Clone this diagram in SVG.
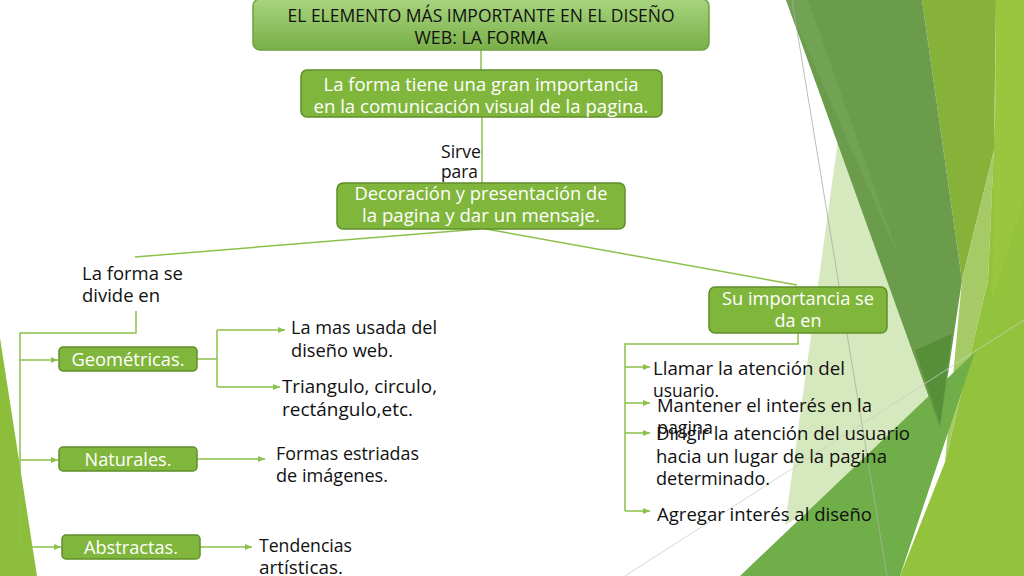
<svg xmlns="http://www.w3.org/2000/svg" width="1024" height="576" viewBox="0 0 1024 576">
<defs>
<style>
.box{fill:#80b63b;stroke:#5e8e2a;stroke-width:1.5}
.bt{font-family:"Open Sans","Liberation Sans",sans-serif;font-size:18px;fill:#ffffff;text-anchor:middle}
.tt{font-family:"Open Sans","Liberation Sans",sans-serif;font-size:18px;fill:#111111;text-anchor:middle}
.t{font-family:"Open Sans","Liberation Sans",sans-serif;font-size:18px;fill:#111111}
.c{stroke:#8cc04a;stroke-width:1.5;fill:none}
.a{marker-end:url(#arr)}
</style>
<linearGradient id="tg" x1="0" y1="0" x2="0" y2="1">
<stop offset="0" stop-color="#a8d47f"/>
<stop offset="1" stop-color="#79af47"/>
</linearGradient>
<marker id="arr" markerUnits="userSpaceOnUse" markerWidth="7" markerHeight="6" refX="7" refY="3" orient="auto">
<path d="M0,0 L7,3 L0,6 z" fill="#8cc04a"/>
</marker>
</defs>
<rect x="0" y="0" width="1024" height="576" fill="#ffffff"/>
<g id="background">
<polygon points="0,338 37,576 0,576" fill="#8cbd3b"/>
<polygon points="996,0 1024,0 1024,576 900,576 945,462 988,280 996,100" fill="#93c23d"/>
<polygon points="996,0 1024,0 1024,200 992,300" fill="#9bc640" opacity="0.8"/>
<polygon points="922,0 996,0 994,150 962,280" fill="#86b23a"/>
<polygon points="994,150 988,280 945,462 962,280" fill="#a5ca66"/>
<polygon points="838,140 945,432 785,525" fill="#d6e8bd"/>
<polygon points="740,576 975,352 900,576" fill="#6fae49"/>
<polygon points="786,0 922,0 962,280 940,428" fill="#6b9c4c"/>
<polygon points="786,0 808,0 900,260" fill="#74a557" opacity="0.8"/>
<polygon points="915,350 952,334 940,424" fill="#568f37"/>
<line x1="792" y1="0" x2="887" y2="576" stroke="#a8ada5" stroke-width="0.8"/>
<line x1="625" y1="576" x2="1024" y2="320" stroke="#c9d1c2" stroke-width="0.8"/>
</g>
<g id="connectors">
<line class="c" x1="481" y1="50" x2="481" y2="70"/>
<line class="c" x1="482" y1="117" x2="482" y2="183"/>
<line class="c" x1="480" y1="229" x2="135" y2="257"/>
<line class="c" x1="486" y1="229" x2="797" y2="285"/>
<polyline class="c" points="136,311 136,333 20,333 20,547"/>
<line class="c a" x1="20" y1="360" x2="58" y2="360"/>
<line class="c a" x1="20" y1="460" x2="58" y2="460"/>
<line class="c a" x1="20" y1="547" x2="61" y2="547"/>
<line class="c" x1="197" y1="359" x2="217" y2="359"/>
<line class="c" x1="217" y1="330" x2="217" y2="387"/>
<line class="c a" x1="217" y1="330" x2="285" y2="330"/>
<line class="c a" x1="217" y1="387" x2="280" y2="387"/>
<line class="c a" x1="197" y1="459" x2="265" y2="459"/>
<line class="c a" x1="200" y1="547" x2="252" y2="547"/>
<polyline class="c" points="798,333 798,344 625,344 625,511"/>
<line class="c a" x1="625" y1="367" x2="650" y2="367"/>
<line class="c a" x1="625" y1="403" x2="650" y2="403"/>
<line class="c a" x1="625" y1="433" x2="650" y2="433"/>
<line class="c a" x1="625" y1="511" x2="650" y2="511"/>
</g>
<g id="title">
<rect x="253" y="-1" width="456" height="51" rx="7" fill="url(#tg)" stroke="#6ea33f" stroke-width="1.5"/>
<text class="tt" x="481" y="22" textLength="387" lengthAdjust="spacingAndGlyphs">EL ELEMENTO MÁS IMPORTANTE EN EL DISEÑO</text>
<text class="tt" x="481" y="44" textLength="133" lengthAdjust="spacingAndGlyphs">WEB: LA FORMA</text>
</g>
<g id="importancia">
<rect class="box" x="301" y="70" width="361" height="47" rx="6"/>
<text class="bt" x="481" y="91" textLength="315" lengthAdjust="spacingAndGlyphs">La forma tiene una gran importancia</text>
<text class="bt" x="481" y="113" textLength="335" lengthAdjust="spacingAndGlyphs">en la comunicación visual de la pagina.</text>
</g>
<g id="sirve">
<text class="t" x="441" y="158" textLength="40" lengthAdjust="spacingAndGlyphs">Sirve</text>
<text class="t" x="441" y="178" textLength="37" lengthAdjust="spacingAndGlyphs">para</text>
</g>
<g id="decoracion">
<rect class="box" x="337" y="183" width="288" height="46" rx="6"/>
<text class="bt" x="481" y="200" textLength="253" lengthAdjust="spacingAndGlyphs">Decoración y presentación de</text>
<text class="bt" x="481" y="222" textLength="238" lengthAdjust="spacingAndGlyphs">la pagina y dar un mensaje.</text>
</g>
<g id="divide">
<text class="t" x="82" y="280" textLength="101" lengthAdjust="spacingAndGlyphs">La forma se</text>
<text class="t" x="82" y="302" textLength="78" lengthAdjust="spacingAndGlyphs">divide en</text>
</g>
<g id="geometricas">
<rect class="box" x="59" y="347" width="138" height="24" rx="4"/>
<text class="bt" x="128" y="366" textLength="113" lengthAdjust="spacingAndGlyphs">Geométricas.</text>
</g>
<g id="naturales">
<rect class="box" x="59" y="447" width="138" height="24" rx="4"/>
<text class="bt" x="128" y="466" textLength="87" lengthAdjust="spacingAndGlyphs">Naturales.</text>
</g>
<g id="abstractas">
<rect class="box" x="62" y="535" width="138" height="24" rx="4"/>
<text class="bt" x="131" y="554" textLength="94" lengthAdjust="spacingAndGlyphs">Abstractas.</text>
</g>
<g id="mas-usada">
<text class="t" x="291" y="334" textLength="146" lengthAdjust="spacingAndGlyphs">La mas usada del</text>
<text class="t" x="291" y="357" textLength="102" lengthAdjust="spacingAndGlyphs">diseño web.</text>
</g>
<g id="triangulo">
<text class="t" x="282" y="393" textLength="155" lengthAdjust="spacingAndGlyphs">Triangulo, circulo,</text>
<text class="t" x="282" y="416" textLength="131" lengthAdjust="spacingAndGlyphs">rectángulo,etc.</text>
</g>
<g id="estriadas">
<text class="t" x="276" y="460" textLength="143" lengthAdjust="spacingAndGlyphs">Formas estriadas</text>
<text class="t" x="276" y="482" textLength="112" lengthAdjust="spacingAndGlyphs">de imágenes.</text>
</g>
<g id="tendencias">
<text class="t" x="259" y="552" textLength="93" lengthAdjust="spacingAndGlyphs">Tendencias</text>
<text class="t" x="259" y="574" textLength="84" lengthAdjust="spacingAndGlyphs">artísticas.</text>
</g>
<g id="su-importancia">
<rect class="box" x="709" y="287" width="178" height="46" rx="6"/>
<text class="bt" x="798" y="305" textLength="152" lengthAdjust="spacingAndGlyphs">Su importancia se</text>
<text class="bt" x="798" y="327">da en</text>
</g>
<g id="llamar">
<text class="t" x="653" y="375" textLength="192" lengthAdjust="spacingAndGlyphs">Llamar la atención del</text>
<text class="t" x="653" y="397" textLength="66" lengthAdjust="spacingAndGlyphs">usuario.</text>
</g>
<g id="mantener">
<text class="t" x="657" y="412" textLength="215" lengthAdjust="spacingAndGlyphs">Mantener el interés en la</text>
<text class="t" x="657" y="434" textLength="56" lengthAdjust="spacingAndGlyphs">pagina</text>
</g>
<g id="dirigir">
<text class="t" x="656" y="440" textLength="254" lengthAdjust="spacingAndGlyphs">Dirigir la atención del usuario</text>
<text class="t" x="656" y="463" textLength="231" lengthAdjust="spacingAndGlyphs">hacia un lugar de la pagina</text>
<text class="t" x="656" y="485" textLength="114" lengthAdjust="spacingAndGlyphs">determinado.</text>
</g>
<g id="agregar">
<text class="t" x="657" y="521" textLength="215" lengthAdjust="spacingAndGlyphs">Agregar interés al diseño</text>
</g>
</svg>
